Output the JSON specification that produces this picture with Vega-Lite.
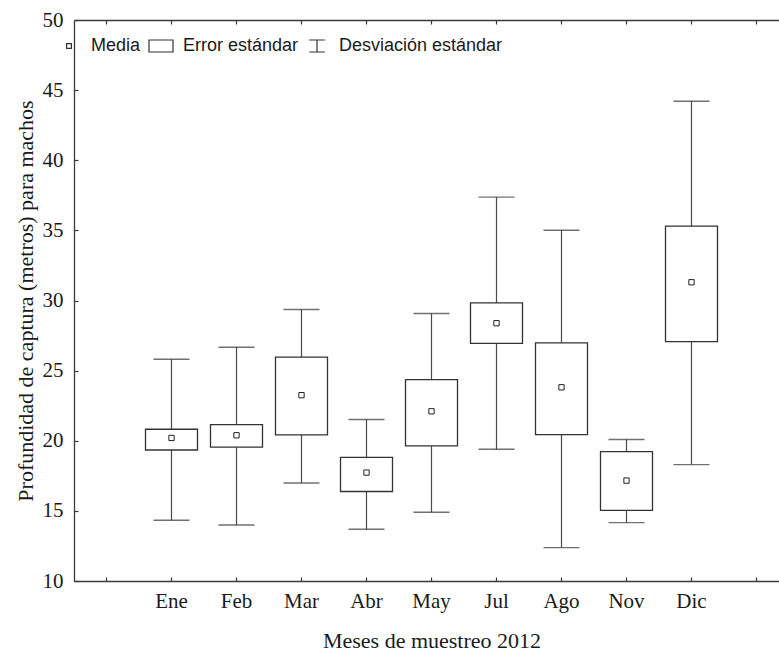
{
  "$schema": "https://vega.github.io/schema/vega-lite/v6.json",
  "width": 705,
  "height": 561,
  "autosize": {"type": "none"},
  "padding": {"left": 74, "top": 20, "right": 0, "bottom": 71},
  "background": "white",
  "config": {
    "view": {"stroke": null},
    "font": "Liberation Serif",
    "style": {
      "guide-label": {"font": "Liberation Serif"},
      "guide-title": {"font": "Liberation Serif"}
    },
    "axis": {
      "grid": false,
      "domainColor": "#3a3a3a",
      "domainWidth": 1.3,
      "tickColor": "#3a3a3a",
      "tickWidth": 1.2,
      "labelColor": "#1a1a1a",
      "titleColor": "#1a1a1a",
      "labelFont": "Liberation Serif",
      "titleFont": "Liberation Serif",
      "labelFontSize": 21,
      "titleFontSize": 22,
      "titleFontWeight": "normal"
    }
  },
  "data": {
    "values": [
      {"mes": "Ene", "media": 20.2, "ee_inf": 19.34, "ee_sup": 20.82, "de_inf": 14.33, "de_sup": 25.81},
      {"mes": "Feb", "media": 20.39, "ee_inf": 19.54, "ee_sup": 21.15, "de_inf": 13.99, "de_sup": 26.67},
      {"mes": "Mar", "media": 23.25, "ee_inf": 20.42, "ee_sup": 25.96, "de_inf": 16.99, "de_sup": 29.36},
      {"mes": "Abr", "media": 17.73, "ee_inf": 16.38, "ee_sup": 18.82, "de_inf": 13.69, "de_sup": 21.51},
      {"mes": "May", "media": 22.1, "ee_inf": 19.63, "ee_sup": 24.36, "de_inf": 14.9, "de_sup": 29.07},
      {"mes": "Jul", "media": 28.38, "ee_inf": 26.95, "ee_sup": 29.83, "de_inf": 19.39, "de_sup": 37.37},
      {"mes": "Ago", "media": 23.81, "ee_inf": 20.44, "ee_sup": 26.98, "de_inf": 12.38, "de_sup": 35.01},
      {"mes": "Nov", "media": 17.16, "ee_inf": 15.04, "ee_sup": 19.23, "de_inf": 14.16, "de_sup": 20.09},
      {"mes": "Dic", "media": 31.3, "ee_inf": 27.07, "ee_sup": 35.3, "de_inf": 18.3, "de_sup": 44.21}
    ]
  },
  "resolve": {"axis": {"x": "independent"}},
  "layer": [
    {
      "mark": {"type": "rule", "color": "#4a4a4a", "strokeWidth": 1.2},
      "encoding": {
        "x": {
          "field": "mes",
          "type": "nominal",
          "scale": {
            "domain": ["", "Ene", "Feb", "Mar", "Abr", "May", "Jul", "Ago", "Nov", "Dic", " "],
            "range": [0, 715],
            "paddingInner": 0,
            "paddingOuter": 0
          },
          "axis": {
            "orient": "bottom",
            "title": "Meses de muestreo 2012",
            "labelAngle": 0,
            "bandPosition": 0.5,
            "tickSize": -4,
            "labelPadding": 13,
            "titlePadding": 19
          }
        },
        "y": {
          "field": "de_inf",
          "type": "quantitative",
          "scale": {"domain": [10, 50], "nice": false, "zero": false},
          "axis": {
            "title": "Profundidad de captura (metros) para machos",
            "values": [10, 15, 20, 25, 30, 35, 40, 45, 50],
            "tickSize": -4,
            "labelPadding": 15,
            "titlePadding": 5
          }
        },
        "y2": {"field": "de_sup"}
      }
    },
    {
      "mark": {"type": "bar", "width": 52, "fill": "white", "stroke": "#333333", "strokeWidth": 1.3},
      "encoding": {
        "x": {
          "field": "mes",
          "type": "nominal",
          "axis": {
            "orient": "top",
            "title": null,
            "labels": false,
            "bandPosition": 0.5,
            "tickSize": -4
          }
        },
        "y": {"field": "ee_inf", "type": "quantitative"},
        "y2": {"field": "ee_sup"}
      }
    },
    {
      "mark": {"type": "tick", "size": 36, "thickness": 1.4, "color": "#333333", "orient": "horizontal"},
      "encoding": {
        "x": {"field": "mes", "type": "nominal", "axis": null},
        "y": {"field": "de_sup", "type": "quantitative"}
      }
    },
    {
      "mark": {"type": "tick", "size": 36, "thickness": 1.4, "color": "#333333", "orient": "horizontal"},
      "encoding": {
        "x": {"field": "mes", "type": "nominal", "axis": null},
        "y": {"field": "de_inf", "type": "quantitative"}
      }
    },
    {
      "mark": {"type": "point", "shape": "square", "size": 28, "filled": false, "stroke": "#222222", "strokeWidth": 1, "opacity": 1},
      "encoding": {
        "x": {"field": "mes", "type": "nominal", "axis": null},
        "y": {"field": "media", "type": "quantitative"}
      }
    },
    {
      "data": {
        "values": [
          {"serie": "Media"},
          {"serie": "Error estándar"},
          {"serie": "Desviación estándar"}
        ]
      },
      "mark": {"type": "point", "filled": false, "opacity": 0, "color": "#333333"},
      "encoding": {
        "shape": {
          "field": "serie",
          "type": "nominal",
          "scale": {
            "domain": ["Media", "Error estándar", "Desviación estándar"],
            "range": [
              "M-0.2,-0.2H0.2V0.2H-0.2Z",
              "M-1,-0.5H1V0.5H-1Z",
              "M-0.65,-0.5H0.65M0,-0.5V0.5M-0.65,0.5H0.65"
            ]
          },
          "legend": {
            "title": null,
            "orient": "none",
            "legendX": -18,
            "legendY": 13,
            "direction": "horizontal",
            "padding": 0,
            "symbolSize": 576,
            "symbolOpacity": 1,
            "symbolStrokeColor": "#333333",
            "symbolFillColor": "transparent",
            "symbolStrokeWidth": 1.2,
            "labelFont": "Liberation Sans",
            "labelFontSize": 18,
            "labelColor": "#1a1a1a",
            "labelLimit": 400,
            "labelOffset": 9,
            "columnPadding": 5
          }
        }
      }
    }
  ]
}
